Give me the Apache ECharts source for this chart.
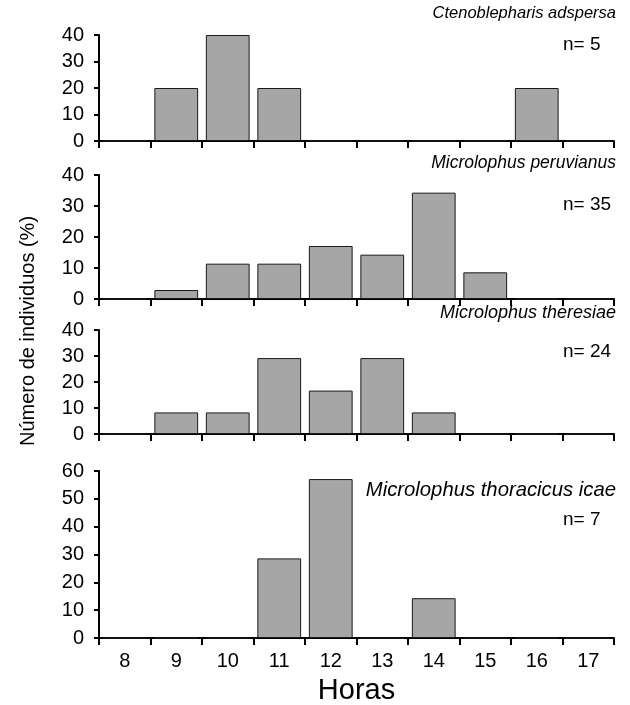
<!DOCTYPE html>
<html>
<head>
<meta charset="utf-8">
<script src="https://cdn.jsdelivr.net/npm/echarts@6/dist/echarts.min.js"></script>
<style>
html,body{margin:0;padding:0;background:#fff;}
#chart{width:630px;height:705px;}
</style>
</head>
<body>
<div id="chart"></div>
<script>
var hours = ['8','9','10','11','12','13','14','15','16','17'];
var species = ['Ctenoblepharis adspersa','Microlophus peruvianus','Microlophus theresiae','Microlophus thoracicus icae'];
var nLabels = ['n= 5','n= 35','n= 24','n= 7'];
var ctenoblepharis = [0, 20, 40, 20, 0, 0, 0, 0, 20, 0];
var peruvianus = [0, 2.9, 11.4, 11.4, 17.1, 14.3, 34.3, 8.6, 0, 0];
var theresiae = [0, 8.3, 8.3, 29.2, 16.7, 29.2, 8.3, 0, 0, 0];
var thoracicus = [0, 0, 0, 28.6, 57.1, 0, 14.3, 0, 0, 0];
var yMax = [40, 40, 40, 60];
var yLabel = 'Número de individuos (%)';
var xLabel = 'Horas';

var seriesData = [ctenoblepharis, peruvianus, theresiae, thoracicus];
var gridTops = [35, 175, 330, 471];
var gridBottoms = [141, 299, 434, 638];
var FONT = 'Liberation Sans, Arial, sans-serif';

var chart = echarts.init(document.getElementById('chart'));
var grids = [], xAxes = [], yAxes = [], series = [], graphics = [];
for (var i = 0; i < 4; i++) {
  grids.push({left: 99, width: 515, top: gridTops[i], height: gridBottoms[i] - gridTops[i],
    containLabel: false, outerBoundsMode: 'none'});
  xAxes.push({
    type: 'category', gridIndex: i, data: hours, boundaryGap: true,
    axisLine: {lineStyle: {color: '#000', width: 2}},
    axisTick: {show: true, length: 7, lineStyle: {color: '#000', width: 2}},
    axisLabel: {show: i === 3, color: '#000', fontSize: 20, fontFamily: FONT, margin: 13},
    name: i === 3 ? xLabel : '', nameLocation: 'middle', nameGap: 38,
    nameTextStyle: {color: '#000', fontSize: 29, fontFamily: FONT}
  });
  yAxes.push({
    type: 'value', gridIndex: i, min: 0, max: yMax[i], interval: 10,
    splitLine: {show: false},
    axisLine: {show: true, lineStyle: {color: '#000', width: 2}},
    axisTick: {show: true, length: 5, lineStyle: {color: '#000', width: 2}},
    axisLabel: {color: '#000', fontSize: 20, fontFamily: FONT, margin: 15}
  });
  series.push({
    type: 'bar', xAxisIndex: i, yAxisIndex: i, data: seriesData[i],
    barCategoryGap: '15%',
    itemStyle: {color: '#a6a6a6', borderColor: '#1a1a1a', borderWidth: 1},
    silent: true
  });
}
var titleY = [13, 163, 313, 490];
var titleSize = [16.5, 17.5, 18, 20.3];
var nY = [45, 205, 352, 520];
for (var j = 0; j < 4; j++) {
  graphics.push({type: 'text', x: 616, y: titleY[j],
    style: {text: species[j], font: 'italic ' + titleSize[j] + 'px ' + FONT, fill: '#000',
      textAlign: 'right', textVerticalAlign: 'middle'}});
  graphics.push({type: 'text', x: 563, y: nY[j],
    style: {text: nLabels[j], font: '19px ' + FONT, fill: '#000',
      textAlign: 'left', textVerticalAlign: 'middle'}});
}
graphics.push({type: 'text', x: 28, y: 331, rotation: Math.PI / 2,
  style: {text: yLabel, font: '20px ' + FONT, fill: '#000', textAlign: 'center', textVerticalAlign: 'middle'}});

chart.setOption({
  animation: false,
  grid: grids, xAxis: xAxes, yAxis: yAxes, series: series,
  graphic: graphics
});
</script>
</body>
</html>
